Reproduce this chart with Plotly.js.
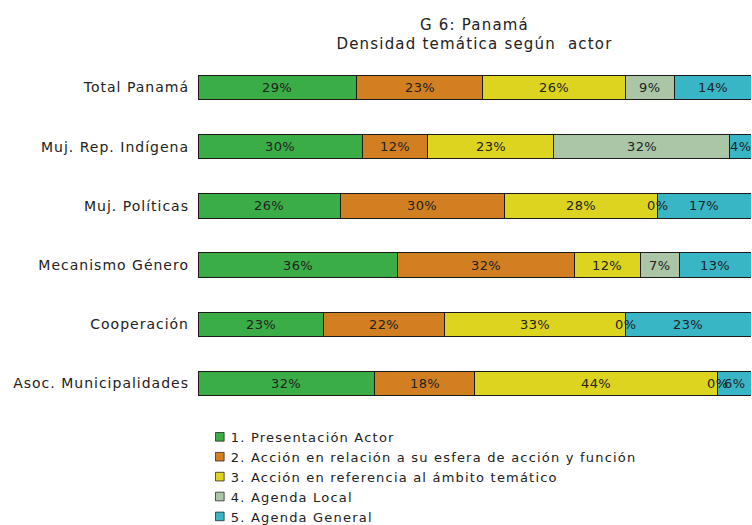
<!DOCTYPE html>
<html>
<head>
<meta charset="utf-8">
<script src="https://cdn.plot.ly/plotly-3.0.1.min.js"></script>
<style>
html,body{margin:0;padding:0;background:#fff;}
#chart{width:752px;height:525px;}
.gtitle{letter-spacing:1.2px;}
.legendtext{letter-spacing:1.2px;}
#chart .ytick text{letter-spacing:1px;}
.annotation-text{letter-spacing:0.4px;}
#chart .legendpoints path{transform:translate(29px,0px) scale(0.72);}
</style>
</head>
<body>
<div id="chart"></div>
<script>
const actors = ["Total Panamá", "Muj. Rep. Indígena", "Muj. Políticas", "Mecanismo Género", "Cooperación", "Asoc. Municipalidades"];
const seriesNames = ["1. Presentación Actor", "2. Acción en relación a su esfera de acción y función", "3. Acción en referencia al ámbito temático", "4. Agenda Local", "5. Agenda General"];
const presentacion = [29, 30, 26, 36, 23, 32];
const accionEsfera = [23, 12, 30, 32, 22, 18];
const accionAmbito = [26, 23, 28, 12, 33, 44];
const agendaLocal  = [9, 32, 0, 7, 0, 0];
const agendaGeneral = [14, 4, 17, 13, 23, 6];
const colors = ["#3aad47", "#d27f22", "#dcd41e", "#aac6a6", "#38b6c6"];

const series = [presentacion, accionEsfera, accionAmbito, agendaLocal, agendaGeneral];
const font = "DejaVu Sans, Liberation Sans, Arial, sans-serif";

const traces = series.map((vals, i) => ({
  type: "bar",
  orientation: "h",
  name: seriesNames[i],
  y: actors,
  x: vals,
  marker: {color: colors[i], line: {color: "#1a1a1a", width: 1}},
  hoverinfo: "name+x"
}));

// labels computed from the data (normalized to percent of row)
const annotations = [];
actors.forEach((a, r) => {
  const total = series.reduce((s, arr) => s + arr[r], 0);
  let cum = 0;
  series.forEach((arr) => {
    const v = arr[r];
    const mid = (cum + v / 2) / total * 100;
    annotations.push({
      x: mid, y: a, xref: "x", yref: "y",
      text: v + "%", showarrow: false,
      font: {family: font, size: 13, color: "#222"}
    });
    cum += v;
  });
});

const layout = {
  width: 752, height: 525,
  paper_bgcolor: "#fff", plot_bgcolor: "#fff",
  barmode: "stack", barnorm: "percent",
  bargap: 0.59,
  margin: {l: 198, r: 1, t: 58, b: 112, autoexpand: false},
  title: {
    text: "G 6: Panamá<br>Densidad temática según  actor",
    x: 0.5, xref: "paper", xanchor: "center",
    y: 0.943, yref: "container", yanchor: "middle",
    font: {family: font, size: 15, color: "#222"}
  },
  xaxis: {range: [0, 100], showgrid: false, zeroline: false, showticklabels: false, showline: false, fixedrange: true},
  yaxis: {
    categoryorder: "array", categoryarray: actors, autorange: "reversed",
    showgrid: false, zeroline: false, showline: false,
    ticks: "", ticklabelstandoff: 8,
    tickfont: {family: font, size: 14, color: "#222"}
  },
  showlegend: true,
  legend: {
    x: -0.013, y: -0.025, xanchor: "left", yanchor: "top",
    traceorder: "normal",
    font: {family: font, size: 13, color: "#222"},
    itemwidth: 30,
    bgcolor: "rgba(0,0,0,0)"
  },
  annotations: annotations
};

Plotly.newPlot("chart", traces, layout, {displayModeBar: false, staticPlot: true});
</script>
</body>
</html>
